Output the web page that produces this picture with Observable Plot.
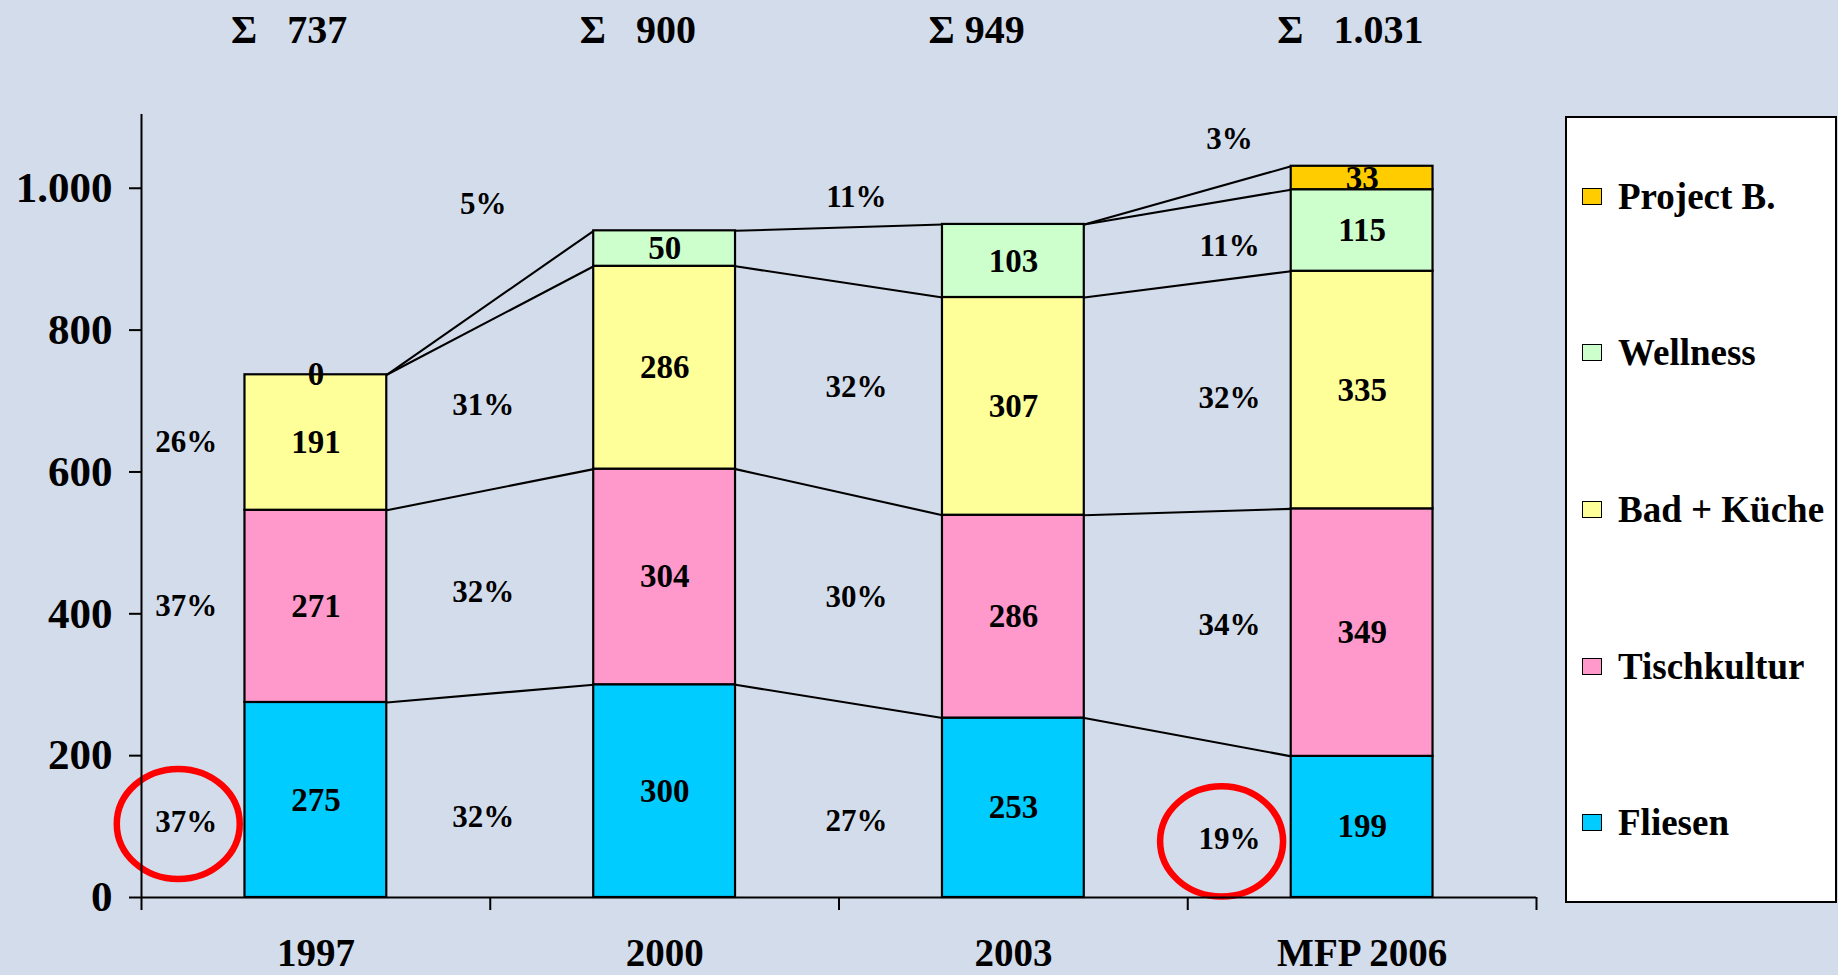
<!DOCTYPE html>
<html><head><meta charset="utf-8">
<script src="https://cdn.jsdelivr.net/npm/d3@7"></script>
<script src="https://cdn.jsdelivr.net/npm/@observablehq/plot@0.6"></script>
<style>
html,body{margin:0;padding:0;background:#D3DCEA;}
#wrap{position:relative;width:1838px;height:975px;overflow:hidden;}
#legend{position:absolute;left:1565px;top:116px;width:268px;height:783px;background:#fff;border:2px solid #000;display:flex;flex-direction:column;justify-content:space-around;font-family:"Liberation Serif";font-weight:bold;font-size:37px;color:#000;}
.item{display:flex;align-items:center;}
.sw{width:18px;height:15px;border:1.5px solid #000;margin-left:15px;margin-right:16px;}
</style></head><body><div id="wrap"><div id="chart"></div><div id="legend"></div></div>
<script>
// ---- data ----
const years = ["1997", "2000", "2003", "MFP 2006"];
const sumLabels = ["Σ\u00A0\u00A0\u00A0737", "Σ\u00A0\u00A0\u00A0900", "Σ\u00A0949", "Σ\u00A0\u00A0\u00A01.031"];
const series = ["Fliesen", "Tischkultur", "Bad + Küche", "Wellness", "Project B."];
const colors = ["#00CCFF", "#FF99CC", "#FFFF99", "#CCFFCC", "#FFCC00"];
const fliesen     = [275, 300, 253, 199];
const tischkultur = [271, 304, 286, 349];
const badKueche   = [191, 286, 307, 335];
const wellness    = [0, 50, 103, 115];
const projectB    = [null, null, null, 33];
const fliesenPct     = ["37%", "32%", "27%", "19%"];
const tischkulturPct = ["37%", "32%", "30%", "34%"];
const badKuechePct   = ["26%", "31%", "32%", "32%"];
const wellnessPct    = [null, "5%", "11%", "11%"];
const projectBPct    = [null, null, null, "3%"];
const yTicks = [0, 200, 400, 600, 800, 1000];
const circled = [["1997", "Fliesen"], ["MFP 2006", "Fliesen"]];

// ---- derived tables ----
const values = [fliesen, tischkultur, badKueche, wellness, projectB];
const pcts = [fliesenPct, tischkulturPct, badKuechePct, wellnessPct, projectBPct];
const hw = 0.2033; // half bar width in band units
const segs = [], cumBot = [], cumTop = [], totals = [];
years.forEach((yr, i) => {
  let c = 0; cumBot[i] = []; cumTop[i] = [];
  series.forEach((s, k) => {
    const v = values[k][i];
    const b = c;
    if (v != null) c += v;
    cumBot[i][k] = b; cumTop[i][k] = c;
    if (v != null) segs.push({year: yr, i, series: s, value: v, y1: b, y2: c});
  });
  totals[i] = c;
});
const links = [];
for (let i = 0; i < years.length - 1; i++) {
  series.forEach((s, k) => {
    if (values[k][i] != null || values[k][i + 1] != null)
      links.push({x1: i + 0.5 + hw, x2: i + 1.5 - hw, y1: cumTop[i][k], y2: cumTop[i + 1][k]});
  });
}
const pctLabels = [];
years.forEach((yr, i) => {
  let top = -1;
  series.forEach((s, k) => { if (values[k][i] != null) top = k; });
  series.forEach((s, k) => {
    const t = pcts[k][i];
    if (t == null) return;
    let x, y;
    if (i === 0) { x = (0.5 - hw) / 2 - 0.02; y = (cumBot[i][k] + cumTop[i][k]) / 2; }
    else {
      x = i * 1.07 - 0.09;
      if (k === top) y = Math.max(totals[i - 1], totals[i]) + 38;
      else y = ((cumBot[i - 1][k] + cumBot[i][k]) / 2 + (cumTop[i - 1][k] + cumTop[i][k]) / 2) / 2;
    }
    pctLabels.push({year: yr, series: s, text: t, x, y, bottom: k === 0,
      circled: circled.some(([cy, cs]) => cy === yr && cs === s)});
  });
});
const fmt = d3.formatLocale({decimal: ",", thousands: ".", grouping: [3], currency: ["", "€"]}).format(",");
const font = "Liberation Serif";
// ellipse symbol (slightly wider than tall)
const ellipseSymbol = {
  draw(ctx, size) {
    const r = Math.sqrt(size / Math.PI), rx = r * 1.06, ry = r * 0.95, k = 0.5523;
    ctx.moveTo(rx, 0);
    ctx.bezierCurveTo(rx, k * ry, k * rx, ry, 0, ry);
    ctx.bezierCurveTo(-k * rx, ry, -rx, k * ry, -rx, 0);
    ctx.bezierCurveTo(-rx, -k * ry, -k * rx, -ry, 0, -ry);
    ctx.bezierCurveTo(k * rx, -ry, rx, -k * ry, rx, 0);
    ctx.closePath();
  }
};

const chart = Plot.plot({
  width: 1838, height: 975,
  marginLeft: 141, marginRight: 302, marginTop: 114, marginBottom: 78,
  style: {background: "#D3DCEA", fontFamily: font, fontWeight: "bold", color: "#000"},
  x: {domain: [0, 4]},
  y: {domain: [0, 1104]},
  color: {domain: series, range: colors},
  marks: [
    Plot.link(links, {x1: "x1", x2: "x2", y1: "y1", y2: "y2", stroke: "#000", strokeWidth: 2.1}),
    Plot.rect(segs, {x1: d => d.i + 0.5 - hw, x2: d => d.i + 0.5 + hw, y1: "y1", y2: "y2", fill: "series", stroke: "#000", strokeWidth: 2.2}),
    Plot.text(segs, {x: d => d.i + 0.5, y: d => (d.y1 + d.y2) / 2, text: d => String(d.value), fontSize: 33, fontWeight: "bold", fontFamily: font, fill: "#000"}),
    Plot.text(pctLabels.filter(d => !d.bottom), {x: "x", y: "y", text: "text", fontSize: 31, fontWeight: "bold", fontFamily: font, fill: "#000"}),
    Plot.text(pctLabels.filter(d => d.bottom), {x: "x", y: "y", dy: 22, text: "text", fontSize: 31, fontWeight: "bold", fontFamily: font, fill: "#000"}),
    Plot.dot(pctLabels.filter(d => d.circled), {x: "x", y: "y", dx: -8, dy: 24, r: 58, symbol: ellipseSymbol, stroke: "#FF0000", strokeWidth: 6.5, fill: "none"}),
    Plot.text(years, {x: (d, i) => i + 0.5 - hw, text: (d, i) => sumLabels[i], frameAnchor: "top", lineAnchor: "bottom", textAnchor: "start", dx: -14, dy: -72, fontSize: 40, fontWeight: "bold", fontFamily: font, fill: "#000"}),
    Plot.text(years, {x: (d, i) => i + 0.5, text: d => d, frameAnchor: "bottom", lineAnchor: "bottom", dy: 68, fontSize: 39, fontWeight: "bold", fontFamily: font, fill: "#000"}),
    Plot.ruleX([0], {stroke: "#000", strokeWidth: 2}),
    Plot.ruleY([0], {stroke: "#000", strokeWidth: 2.2}),
    Plot.axisY({ticks: yTicks, tickFormat: fmt, tickSize: 12, tickPadding: 17, fontSize: 43, fontWeight: "bold", fontFamily: font, stroke: "#000", strokeWidth: 2, label: null}),
    Plot.axisX({ticks: [0, 1, 2, 3, 4], tickFormat: () => "", tickSize: 13, stroke: "#000", strokeWidth: 2, label: null})
  ]
});
document.getElementById("chart").appendChild(chart);

const legend = document.getElementById("legend");
series.slice().reverse().forEach(s => {
  const it = document.createElement("div"); it.className = "item";
  const sw = document.createElement("div"); sw.className = "sw";
  sw.style.background = colors[series.indexOf(s)];
  const lb = document.createElement("span"); lb.textContent = s;
  it.appendChild(sw); it.appendChild(lb); legend.appendChild(it);
});
</script></body></html>
